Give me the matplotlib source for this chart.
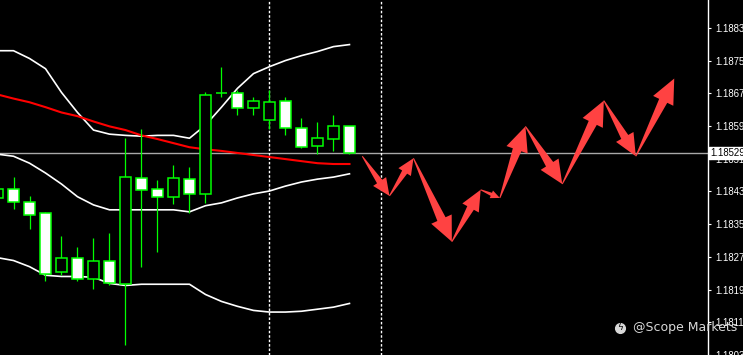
import matplotlib
matplotlib.use("Agg")
import matplotlib.pyplot as plt
from matplotlib.patches import Rectangle, Polygon
import numpy as np

# candles (EURUSD-like), one per bar index
opens = [1.18419, 1.18441, 1.18409, 1.18383, 1.18237, 1.18271, 1.18220, 1.18264, 1.18208, 1.18468,
         1.18441, 1.18422, 1.18465, 1.18429, 1.18675, 1.18675, 1.18640, 1.18609, 1.18655, 1.18589,
         1.18546, 1.18563, 1.18594]
highs = [1.18448, 1.18470, 1.18424, 1.18385, 1.18327, 1.18300, 1.18322, 1.18334, 1.18565, 1.18587,
         1.18463, 1.18499, 1.18495, 1.18677, 1.18738, 1.18684, 1.18665, 1.18684, 1.18667, 1.18614,
         1.18604, 1.18621, 1.18594]
lows = [1.18409, 1.18392, 1.18344, 1.18215, 1.18230, 1.18215, 1.18196, 1.18205, 1.18059, 1.18249,
        1.18288, 1.18405, 1.18383, 1.18407, 1.18667, 1.18621, 1.18621, 1.18587, 1.18572, 1.18541,
        1.18526, 1.18534, 1.18526]
closes = [1.18441, 1.18409, 1.18378, 1.18232, 1.18271, 1.18220, 1.18264, 1.18210, 1.18470, 1.18439,
          1.18422, 1.18468, 1.18429, 1.18670, 1.18675, 1.18640, 1.18657, 1.18653, 1.18589, 1.18543,
          1.18565, 1.18594, 1.18529]

# bollinger bands + moving average
bb_upper = [1.18779, 1.18779, 1.18760, 1.18735, 1.18677, 1.18628, 1.18585, 1.18575, 1.18572, 1.18570,
            1.18572, 1.18572, 1.18565, 1.18597, 1.18641, 1.18687, 1.18723, 1.18740, 1.18755, 1.18767,
            1.18777, 1.18789, 1.18794]
bb_mid = [1.18526, 1.18521, 1.18504, 1.18480, 1.18453, 1.18422, 1.18402, 1.18390, 1.18390, 1.18390,
          1.18390, 1.18390, 1.18385, 1.18400, 1.18407, 1.18419, 1.18429, 1.18436, 1.18448, 1.18458,
          1.18465, 1.18470, 1.18478]
bb_lower = [1.18273, 1.18266, 1.18251, 1.18230, 1.18227, 1.18227, 1.18225, 1.18210, 1.18205, 1.18208,
            1.18208, 1.18208, 1.18208, 1.18183, 1.18166, 1.18154, 1.18144, 1.18140, 1.18140, 1.18142,
            1.18147, 1.18152, 1.18161]
ma_red = [1.18672, 1.18662, 1.18653, 1.18641, 1.18628, 1.18619, 1.18606, 1.18594, 1.18585, 1.18572,
          1.18563, 1.18553, 1.18543, 1.18538, 1.18534, 1.18529, 1.18524, 1.18519, 1.18514, 1.18509,
          1.18504, 1.18502, 1.18502]

# projected zigzag (bar index, price)
arrow_x = [22.8, 24.5, 26.0, 28.4, 30.2, 31.4, 33.0, 35.3, 37.9, 39.9, 42.3]
arrow_y = [1.18521, 1.18424, 1.18516, 1.18312, 1.18439, 1.18419, 1.18594, 1.18453, 1.18657, 1.18521, 1.18711]

vlines = [17, 24]
last_price = 1.18529
tick_prices = [1.18835, 1.18755, 1.18675, 1.18595, 1.18515, 1.18435, 1.18355, 1.18275, 1.18195, 1.18115, 1.18035]

GREEN = "#00ff00"

fig = plt.figure(figsize=(7.43, 3.55), dpi=100, facecolor="black")
ax = fig.add_axes([0, 0, 708 / 743, 1])
ax.set_facecolor("black")
ax.set_xlim(0.156, 44.41)
ax.set_ylim(1.18040, 1.18903)

for i in range(len(opens)):
    o, h, l, c = opens[i], highs[i], lows[i], closes[i]
    ax.plot([i, i], [l, h], color=GREEN, lw=0.9, zorder=3, solid_capstyle="butt")
    fill = "black" if c > o else "white"
    ax.add_patch(Rectangle((i - 0.315, min(o, c)), 0.63, abs(c - o), facecolor=fill,
                           edgecolor=GREEN, lw=1.1, zorder=4))

xs = np.arange(len(bb_upper))
ax.plot(xs, bb_upper, color="white", lw=1.2, zorder=2)
ax.plot(xs, bb_mid, color="white", lw=1.2, zorder=2)
ax.plot(xs, bb_lower, color="white", lw=1.2, zorder=2)
ax.plot(xs, ma_red, color="#ff0000", lw=1.5, zorder=2)

ax.axhline(last_price, color="#a8a8a8", lw=1, zorder=1)
for v in vlines:
    ax.axvline(v, color="white", lw=1, linestyle=(0, (1.8, 1.4)), zorder=1)

# tapered arrows, built in pixel space
to_px = ax.transData
to_data = ax.transData.inverted()
for j in range(len(arrow_x) - 1):
    p0 = to_px.transform((arrow_x[j], arrow_y[j]))
    p1 = to_px.transform((arrow_x[j + 1], arrow_y[j + 1]))
    d = p1 - p0
    length = np.hypot(*d)
    u = d / length
    n = np.array([-u[1], u[0]])
    hl = min(0.3 * length + 3, 25)
    hw = 0.9 * hl
    sw = 0.4 * hw
    base = p1 - u * hl
    pts = [p0 + n * 0.5, base + n * sw / 2, base + n * hw / 2, p1,
           base - n * hw / 2, base - n * sw / 2, p0 - n * 0.5]
    ax.add_patch(Polygon(to_data.transform(pts), closed=True, facecolor="#ff4242",
                         edgecolor="none", zorder=5))

# price scale on the right
ax.yaxis.tick_right()
ax.set_yticks(tick_prices)
ax.set_yticklabels(["%.5f" % t for t in tick_prices], family="Liberation Sans", fontsize=6.9,
                   color="white")
ax.tick_params(axis="y", direction="out", length=2.5, pad=3.0, color="white", width=0.8)
ax.set_xticks([])
for s in ["top", "bottom", "left"]:
    ax.spines[s].set_visible(False)
ax.spines["right"].set_color("white")
ax.spines["right"].set_linewidth(1)

# current price box
ax.text(1.003, last_price, "%.5f" % last_price, transform=ax.get_yaxis_transform(),
        ha="left", va="center", fontsize=6.9, family="Liberation Sans", color="black",
        bbox=dict(boxstyle="square,pad=0.12", facecolor="white", edgecolor="white"),
        zorder=10, clip_on=False)

# watermark
fig.text(633 / 743, 1 - 327 / 355, "@Scope Markets", color="#d8d8d8", fontsize=9,
         family="DejaVu Sans", ha="left", va="center", zorder=20)
fig.lines.append(plt.Line2D([620 / 743], [1 - 328 / 355], transform=fig.transFigure,
                            marker="o", ms=7, color="#d8d8d8", zorder=20))
fig.text(620 / 743, 1 - 328 / 355, "ϟ", color="black", fontsize=6.5, ha="center", va="center",
         family="DejaVu Sans", zorder=21)

fig.savefig("out.png", dpi=100, facecolor="black")
